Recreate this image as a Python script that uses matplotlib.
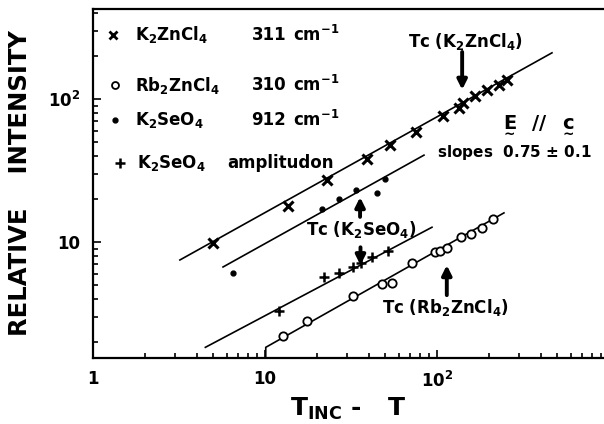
import matplotlib
matplotlib.use("Agg")
import matplotlib.pyplot as plt

plt.rcParams['font.family'] = ['DejaVu Sans']
plt.rcParams['font.weight'] = 'bold'
plt.rcParams['mathtext.fontset'] = 'custom'
plt.rcParams['mathtext.rm'] = 'DejaVu Sans:bold'
plt.rcParams['mathtext.it'] = 'DejaVu Sans:bold'
plt.rcParams['mathtext.bf'] = 'DejaVu Sans:bold'
plt.rcParams['mathtext.sf'] = 'DejaVu Sans:bold'

# K2ZnCl4, 311 cm-1 (crosses)
kzn_x = [5.0, 13.6, 23, 39, 53, 75, 108, 134, 142, 166, 195, 229, 255]
kzn_y = [9.8, 18, 27, 38, 48, 59, 76, 86, 94, 105, 116, 125, 136]
kzn_fit_x = [3.2, 466]
kzn_fit_y = [7.5, 210]

# K2SeO4, 912 cm-1 (dots)
kse_x = [6.5, 21.4, 27, 34, 45, 50]
kse_y = [6.1, 17, 20, 23, 22, 27.6]
kse_fit_x = [5.7, 84]
kse_fit_y = [6.7, 40.5]

# K2SeO4 amplitudon (plus)
amp_x = [12, 22, 27, 32.5, 36, 42, 52]
amp_y = [3.3, 5.7, 6.1, 6.7, 7.1, 7.9, 8.6]
amp_fit_x = [4.5, 93.5]
amp_fit_y = [1.84, 12.7]

# Rb2ZnCl4, 310 cm-1 (open circles)
rb_x = [12.7, 17.6, 32.5, 48, 55, 72, 97, 104, 114, 138, 158, 183, 212]
rb_y = [2.2, 2.8, 4.2, 5.1, 5.2, 7.2, 8.5, 8.6, 9.1, 10.8, 11.4, 12.5, 14.5]
rb_fit_x = [10.1, 10.1, 245]
rb_fit_y = [1.55, 1.84, 16]

fig = plt.figure(figsize=(6.04, 4.24), dpi=100)
ax = fig.add_axes([93/604, 1 - 358/424, 1 - 93/604, (358 - 9)/424])
ax.set_xscale('log')
ax.set_yscale('log')
ax.set_xlim(1, 935)
ax.set_ylim(1.55, 425)

lw = 1.2
ax.plot(kzn_fit_x, kzn_fit_y, color='black', lw=lw)
ax.plot(kse_fit_x, kse_fit_y, color='black', lw=lw)
ax.plot(amp_fit_x, amp_fit_y, color='black', lw=lw)
ax.plot(rb_fit_x, rb_fit_y, color='black', lw=lw)

ax.plot(kzn_x, kzn_y, ls='none', marker='x', ms=7, mew=2.2, color='black')
ax.plot(kse_x, kse_y, ls='none', marker='o', ms=3.5, color='black')
ax.plot(amp_x, amp_y, ls='none', marker='+', ms=7, mew=1.8, color='black')
ax.plot(rb_x, rb_y, ls='none', marker='o', ms=6, mew=1.3, mfc='white', color='black')

# legend drawn as text block
fs = 12
rows = [(0.926, 'x', r'K$_2$ZnCl$_4$', '311', r'cm$^{-1}$'),
        (0.782, 'o', r'Rb$_2$ZnCl$_4$', '310', r'cm$^{-1}$'),
        (0.682, '.', r'K$_2$SeO$_4$', '912', r'cm$^{-1}$')]
for y, m, name, wn, unit in rows:
    if m == 'x':
        ax.plot([0.039], [y], transform=ax.transAxes, marker='x', ms=6, mew=2, color='black')
    elif m == 'o':
        ax.plot([0.043], [y], transform=ax.transAxes, marker='o', ms=5, mew=1.3, mfc='white', color='black')
    else:
        ax.plot([0.043], [y], transform=ax.transAxes, marker='o', ms=3.5, color='black')
    ax.text(0.082, y, name, transform=ax.transAxes, fontsize=fs, va='center')
    ax.text(0.31, y, wn, transform=ax.transAxes, fontsize=fs, va='center')
    ax.text(0.392, y, unit, transform=ax.transAxes, fontsize=fs, va='center')
ax.plot([0.053], [0.559], transform=ax.transAxes, marker='+', ms=7, mew=1.8, color='black')
ax.text(0.086, 0.559, r'K$_2$SeO$_4$', transform=ax.transAxes, fontsize=fs, va='center')
ax.text(0.262, 0.559, 'amplitudon', transform=ax.transAxes, fontsize=fs, va='center')

ax.text(0.871, 0.671, r'$\underset{\sim}{E}$  //  $\underset{\sim}{c}$', transform=ax.transAxes,
        fontsize=14, ha='center', va='center')
ax.text(0.824, 0.590, r'slopes  0.75 $\pm$ 0.1', transform=ax.transAxes,
        fontsize=11, ha='center', va='center')

arrow = dict(arrowstyle='-|>', lw=2.8, color='black', mutation_scale=14, shrinkA=0, shrinkB=0)
ax.annotate('', xy=(140, 116), xytext=(140, 213), arrowprops=arrow)
ax.text(0.728, 0.906, r'Tc (K$_2$ZnCl$_4$)', transform=ax.transAxes, fontsize=fs, ha='center', va='center')
ax.annotate('', xy=(35.7, 20.6), xytext=(35.7, 15.0), arrowprops=arrow)
ax.annotate('', xy=(35.9, 6.9), xytext=(35.9, 9.2), arrowprops=arrow)
ax.text(0.524, 0.367, r'Tc (K$_2$SeO$_4$)', transform=ax.transAxes, fontsize=fs, ha='center', va='center')
ax.annotate('', xy=(114, 6.9), xytext=(114, 4.26), arrowprops=arrow)
ax.text(0.689, 0.146, r'Tc (Rb$_2$ZnCl$_4$)', transform=ax.transAxes, fontsize=fs, ha='center', va='center')

ax.set_xticks([1, 10, 100], ['1', '10', r'10$^2$'])
ax.set_yticks([10, 100], ['10', r'10$^2$'])
ax.tick_params(which='both', direction='in', top=False, right=False, labelsize=12, width=1.2)
ax.tick_params(which='major', length=6, pad=9)
ax.tick_params(which='minor', length=3.5)

for s in ['left', 'bottom', 'top']:
    ax.spines[s].set_linewidth(1.6)
ax.spines['right'].set_visible(False)

ax.set_xlabel(r'T$_{\mathrm{INC}}$ -   T', fontsize=18, fontweight='bold', labelpad=4)
ax.set_ylabel('RELATIVE    INTENSITY', fontsize=17.5, fontweight='bold', labelpad=12)

fig.savefig('out.png', dpi=100)
